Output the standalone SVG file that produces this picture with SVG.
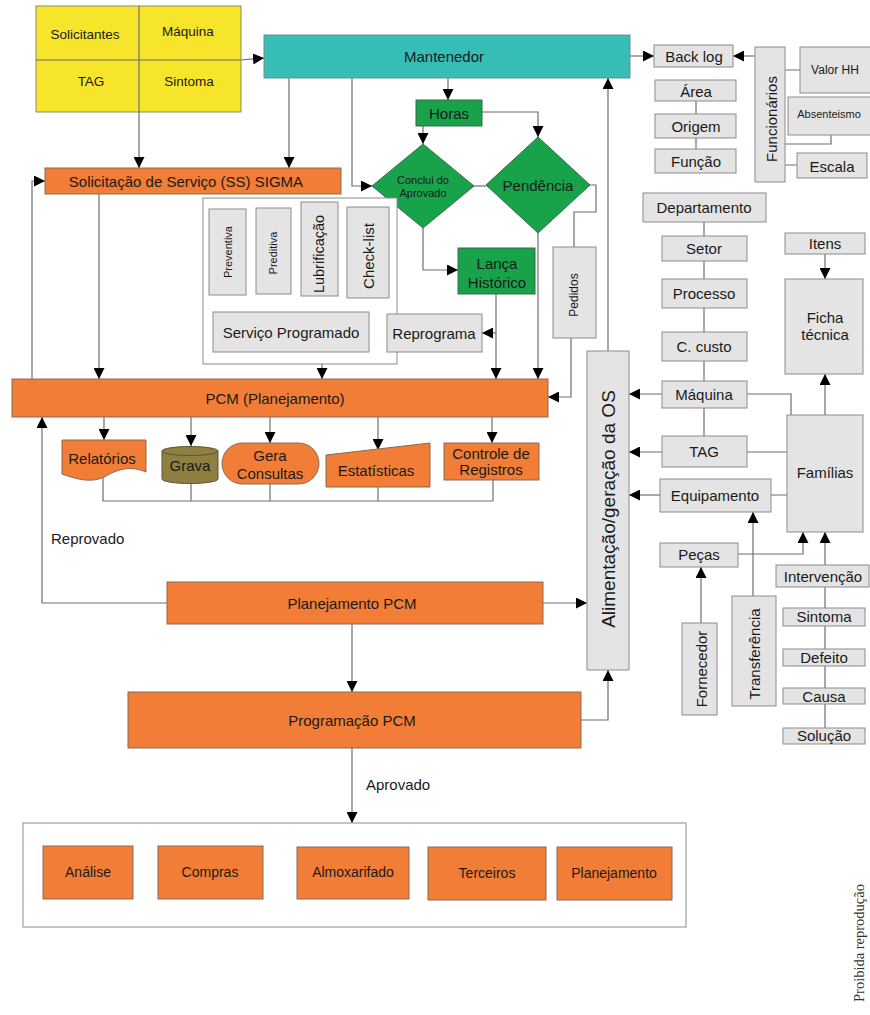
<svg xmlns="http://www.w3.org/2000/svg" width="870" height="1015" viewBox="0 0 870 1015">
  <style>
    text { font-family: "Liberation Sans", Arial, sans-serif; fill: #1a1a1a; text-anchor: middle; dominant-baseline: central; }
    .f15 { font-size: 15px; }
    .f13 { font-size: 13.5px; }
    .f12 { font-size: 12px; }
    .f11 { font-size: 11px; }
    .yel { fill: #F6E52A; stroke: #8b8b70; stroke-width: 1; }
    .teal { fill: #36BDB6; stroke: #6d8f8d; stroke-width: 1; }
    .org { fill: #F27D36; stroke: #8a6a55; stroke-width: 1; }
    .grn { fill: #18A24A; stroke: #3b6b4a; stroke-width: 1; }
    .gry { fill: #E4E4E4; stroke: #8c8c8c; stroke-width: 1; }
    .oli { fill: #8E8040; stroke: #5c5430; stroke-width: 1; }
    .frame { fill: #ffffff; stroke: #8c8c8c; stroke-width: 1; }
    .ln { fill: none; stroke: #6f6f6f; stroke-width: 1.2; }
    .arr { fill: none; stroke: #6f6f6f; stroke-width: 1.2; marker-end: url(#head); }
    .lbl { text-anchor: start; font-size: 15px; }
    .mark { font-family: "Liberation Serif", "Times New Roman", serif; font-size: 14.5px; fill: #333; }
  </style>
  <defs>
    <marker id="head" viewBox="0 0 10 10" refX="10" refY="5" markerWidth="11" markerHeight="11" markerUnits="userSpaceOnUse" orient="auto">
      <path d="M0,0 L10,5 L0,10 z" fill="#000"/>
    </marker>
  </defs>

  <!-- connectors -->
  <g id="connectors">
    <!-- top area -->
    <path class="arr" d="M241,60 L264,58"/>
    <path class="arr" d="M139,112 V168"/>
    <path class="arr" d="M289,78 V168"/>
    <path class="arr" d="M352,78 V186 H372"/>
    <path class="arr" d="M448,78 V100"/>
    <path class="arr" d="M423,126 V144"/>
    <path class="arr" d="M482,112 H538 V137"/>
    <path class="ln" d="M474,186 H486"/>
    <path class="arr" d="M630,56 H654"/>
    <path class="arr" d="M755,56 H733"/>
    <path class="ln" d="M696,101 V114 M696,138 V149"/>
    <path class="ln" d="M785,70 H800 M831,135 V144 H785 M785,165 H797"/>
    <!-- SS and PCM -->
    <path class="arr" d="M32,379 V181 H45"/>
    <path class="arr" d="M99,194 V379"/>
    <!-- decisions -->
    <path class="arr" d="M423,228 V270 H458"/>
    <path class="arr" d="M496,294 V379"/>
    <path class="arr" d="M496,333 H482"/>
    <path class="arr" d="M538,233 V379"/>
    <path class="ln" d="M590,185 H596 V212 H574 V247"/>
    <path class="arr" d="M571,338 V397 H548"/>
    <!-- programmed service -->
    <path class="ln" d="M228,295 V312 M273,294 V312 M319,296 V312 M368,298 V312"/>
    <path class="arr" d="M387,333 H369"/>
    <path class="arr" d="M322,352 V379"/>
    <!-- PCM outputs -->
    <path class="arr" d="M104,417 V440"/>
    <path class="arr" d="M191,417 V446"/>
    <path class="arr" d="M270,417 V443"/>
    <path class="arr" d="M378,417 V450"/>
    <path class="arr" d="M492,417 V443"/>
    <path class="ln" d="M103,476 V501 H493 M191,483 V501 M270,484 V501 M378,487 V501 M493,480 V501"/>
    <!-- planning flow -->
    <path class="arr" d="M167,603 H42 V417"/>
    <path class="arr" d="M543,603 H587"/>
    <path class="arr" d="M352,624 V692"/>
    <path class="arr" d="M581,720 H608 V670"/>
    <path class="arr" d="M608,351 V78"/>
    <path class="arr" d="M352,748 V823"/>
    <!-- right hierarchy -->
    <path class="ln" d="M704,222 V236 M704,261 V279 M704,308 V332 M704,361 V381 M704,408 V436"/>
    <path class="arr" d="M662,394 H629"/>
    <path class="arr" d="M662,452 H629"/>
    <path class="arr" d="M660,495 H629"/>
    <path class="ln" d="M747,394 H791 V415 M747,452 H787 M771,495 H787"/>
    <path class="arr" d="M825,254 V279"/>
    <path class="arr" d="M825,415 V374"/>
    <path class="arr" d="M738,554 H803 V532"/>
    <path class="arr" d="M825,565 V532"/>
    <path class="arr" d="M701,623 V567"/>
    <path class="arr" d="M753,596 V512"/>
    <path class="ln" d="M825,587 V608 M825,626 V649 M825,666 V688 M825,704 V728"/>
  </g>

  <!-- request data grid -->
  <g id="request-grid">
    <rect class="yel" x="36" y="6" width="205" height="106"/>
    <path class="ln" d="M139,6 V112 M36,60 H241" stroke="#8b8b70"/>
    <text class="f13" x="85" y="34">Solicitantes</text>
    <text class="f13" x="188" y="31">Máquina</text>
    <text class="f13" x="91" y="81">TAG</text>
    <text class="f13" x="189" y="81">Sintoma</text>
  </g>

  <g id="mantenedor">
    <rect class="teal" x="264" y="35" width="366" height="43"/>
    <text class="f15" x="444" y="56">Mantenedor</text>
  </g>

  <g id="backlog">
    <rect class="gry" x="654" y="45" width="79" height="22"/>
    <text class="f15" x="694" y="56">Back log</text>
  </g>
  <g id="area">
    <rect class="gry" x="655" y="80" width="81" height="21"/>
    <text class="f15" x="696" y="91">Área</text>
  </g>
  <g id="origem">
    <rect class="gry" x="655" y="114" width="81" height="24"/>
    <text class="f15" x="696" y="126">Origem</text>
  </g>
  <g id="funcao">
    <rect class="gry" x="655" y="149" width="81" height="24"/>
    <text class="f15" x="696" y="161">Função</text>
  </g>
  <g id="funcionarios">
    <rect class="gry" x="755" y="47" width="30" height="135"/>
    <text class="f15" transform="rotate(-90 771 119)" x="771" y="119">Funcionários</text>
  </g>
  <g id="valor-hh">
    <rect class="gry" x="800" y="47" width="72" height="46"/>
    <text class="f12" x="835" y="70">Valor HH</text>
  </g>
  <g id="absenteismo">
    <rect class="gry" x="788" y="97" width="84" height="38"/>
    <text class="f11" x="829" y="114">Absenteismo</text>
  </g>
  <g id="escala">
    <rect class="gry" x="797" y="153" width="70" height="25"/>
    <text class="f15" x="832" y="166">Escala</text>
  </g>

  <g id="horas">
    <rect class="grn" x="416" y="100" width="66" height="26"/>
    <text class="f15" x="449" y="113">Horas</text>
  </g>
  <g id="conclui">
    <polygon class="grn" points="423,144 474,186 423,228 372,186"/>
    <text class="f11" x="423" y="180">Conclui do</text>
    <text class="f11" x="423" y="193">Aprovado</text>
  </g>
  <g id="pendencia">
    <polygon class="grn" points="538,137 590,185 538,233 486,185"/>
    <text class="f15" x="538" y="185">Pendência</text>
  </g>
  <g id="lanca-historico">
    <rect class="grn" x="458" y="248" width="77" height="46"/>
    <text class="f15" x="497" y="263">Lança</text>
    <text class="f15" x="497" y="282">Histórico</text>
  </g>
  <g id="pedidos">
    <rect class="gry" x="553" y="247" width="43" height="91"/>
    <text class="f12" transform="rotate(-90 574 295)" x="574" y="295">Pedidos</text>
  </g>

  <g id="solicitacao">
    <rect class="org" x="45" y="168" width="296" height="26"/>
    <text class="f15" x="186" y="181">Solicitação de Serviço (SS) SIGMA</text>
  </g>

  <g id="servico-programado-grupo">
    <rect class="frame" x="203" y="198" width="194" height="166"/>
    <rect class="gry" x="209" y="209" width="37" height="86"/>
    <text class="f11" transform="rotate(-90 228 252)" x="228" y="252">Preventiva</text>
    <rect class="gry" x="256" y="208" width="35" height="86"/>
    <text class="f11" transform="rotate(-90 273 253)" x="273" y="253">Preditiva</text>
    <rect class="gry" x="301" y="202" width="37" height="94"/>
    <text class="f15" style="font-size:14.5px" transform="rotate(-90 319 254)" x="319" y="254">Lubrificação</text>
    <rect class="gry" x="347" y="207" width="42" height="91"/>
    <text class="f15" transform="rotate(-90 368 256)" x="368" y="256">Check-list</text>
    <rect class="gry" x="213" y="312" width="156" height="40"/>
    <text class="f15" x="291" y="332">Serviço Programado</text>
  </g>
  <g id="reprograma">
    <rect class="gry" x="387" y="314" width="95" height="38"/>
    <text class="f15" x="434" y="333">Reprograma</text>
  </g>

  <g id="pcm">
    <rect class="org" x="12" y="379" width="536" height="38"/>
    <text class="f15" x="275" y="398">PCM (Planejamento)</text>
  </g>
  <g id="relatorios">
    <path class="org" d="M62,440 H146 V472 C132,466 120,468 106,476 C92,484 76,479 62,474 Z"/>
    <text class="f15" x="102" y="458">Relatórios</text>
  </g>
  <g id="grava">
    <path class="oli" d="M162,451 A28,4.5 0 0 1 218,451 V479 A28,4.5 0 0 1 162,479 Z"/>
    <path class="oli" d="M162,451 A28,4.5 0 0 0 218,451" fill="none"/>
    <text class="f15" x="190" y="465">Grava</text>
  </g>
  <g id="gera-consultas">
    <rect class="org" x="222" y="443" width="97" height="41" rx="20.5"/>
    <text class="f15" x="270" y="455">Gera</text>
    <text class="f15" x="270" y="473">Consultas</text>
  </g>
  <g id="estatisticas">
    <polygon class="org" points="326,455 430,443 430,487 326,487"/>
    <text class="f15" x="376" y="470">Estatísticas</text>
  </g>
  <g id="controle-registros">
    <rect class="org" x="444" y="443" width="95" height="37"/>
    <text class="f15" x="491" y="453">Controle de</text>
    <text class="f15" x="491" y="469">Registros</text>
  </g>

  <text class="lbl" x="51" y="538">Reprovado</text>

  <g id="planejamento-pcm">
    <rect class="org" x="167" y="582" width="376" height="42"/>
    <text class="f15" x="352" y="603">Planejamento PCM</text>
  </g>
  <g id="programacao-pcm">
    <rect class="org" x="128" y="692" width="453" height="56"/>
    <text class="f15" x="352" y="720">Programação PCM</text>
  </g>
  <text class="lbl" x="366" y="784">Aprovado</text>

  <g id="alimentacao">
    <rect class="gry" x="587" y="351" width="42" height="319"/>
    <text class="f15" style="font-size:19px" transform="rotate(-90 608 509)" x="608" y="509">Alimentação/geração da OS</text>
  </g>

  <g id="departamento">
    <rect class="gry" x="643" y="193" width="123" height="29"/>
    <text class="f15" x="704" y="207">Departamento</text>
  </g>
  <g id="setor">
    <rect class="gry" x="662" y="236" width="85" height="25"/>
    <text class="f15" x="704" y="248">Setor</text>
  </g>
  <g id="processo">
    <rect class="gry" x="662" y="279" width="85" height="29"/>
    <text class="f15" x="704" y="293">Processo</text>
  </g>
  <g id="c-custo">
    <rect class="gry" x="662" y="332" width="85" height="29"/>
    <text class="f15" x="704" y="346">C. custo</text>
  </g>
  <g id="maquina">
    <rect class="gry" x="662" y="381" width="85" height="27"/>
    <text class="f15" x="704" y="394">Máquina</text>
  </g>
  <g id="tag">
    <rect class="gry" x="662" y="436" width="85" height="31"/>
    <text class="f15" x="704" y="451">TAG</text>
  </g>
  <g id="equipamento">
    <rect class="gry" x="660" y="479" width="111" height="33"/>
    <text class="f15" x="715" y="495">Equipamento</text>
  </g>
  <g id="pecas">
    <rect class="gry" x="660" y="543" width="78" height="24"/>
    <text class="f15" x="699" y="554">Peças</text>
  </g>
  <g id="fornecedor">
    <rect class="gry" x="682" y="623" width="35" height="92"/>
    <text class="f15" transform="rotate(-90 701 669)" x="701" y="669">Fornecedor</text>
  </g>
  <g id="transferencia">
    <rect class="gry" x="732" y="596" width="44" height="110"/>
    <text class="f15" transform="rotate(-90 754 654)" x="754" y="654">Transferência</text>
  </g>
  <g id="itens">
    <rect class="gry" x="785" y="233" width="80" height="21"/>
    <text class="f15" x="825" y="243">Itens</text>
  </g>
  <g id="ficha-tecnica">
    <rect class="gry" x="785" y="279" width="78" height="95"/>
    <text class="f15" x="825" y="317">Ficha</text>
    <text class="f15" x="825" y="334">técnica</text>
  </g>
  <g id="familias">
    <rect class="gry" x="787" y="415" width="76" height="117"/>
    <text class="f15" x="825" y="472">Famílias</text>
  </g>
  <g id="intervencao">
    <rect class="gry" x="776" y="565" width="93" height="22"/>
    <text class="f15" x="823" y="576">Intervenção</text>
  </g>
  <g id="sintoma">
    <rect class="gry" x="783" y="608" width="82" height="18"/>
    <text class="f15" x="824" y="616">Sintoma</text>
  </g>
  <g id="defeito">
    <rect class="gry" x="783" y="649" width="82" height="17"/>
    <text class="f15" x="824" y="657">Defeito</text>
  </g>
  <g id="causa">
    <rect class="gry" x="783" y="688" width="82" height="16"/>
    <text class="f15" x="824" y="696">Causa</text>
  </g>
  <g id="solucao">
    <rect class="gry" x="783" y="728" width="82" height="16"/>
    <text class="f15" x="824" y="735">Solução</text>
  </g>

  <g id="areas-envolvidas">
    <rect class="frame" x="23" y="823" width="663" height="104"/>
    <rect class="org" x="43" y="846" width="90" height="53"/>
    <text class="f15" style="font-size:14px" x="88" y="872">Análise</text>
    <rect class="org" x="158" y="846" width="105" height="53"/>
    <text class="f15" style="font-size:14px" x="210" y="872">Compras</text>
    <rect class="org" x="297" y="847" width="112" height="52"/>
    <text class="f15" style="font-size:14px" x="353" y="872">Almoxarifado</text>
    <rect class="org" x="428" y="847" width="118" height="53"/>
    <text class="f15" style="font-size:14px" x="487" y="873">Terceiros</text>
    <rect class="org" x="557" y="847" width="115" height="53"/>
    <text class="f15" style="font-size:14px" x="614" y="873">Planejamento</text>
  </g>

  <text class="mark" transform="rotate(-90 859 943)" x="859" y="943">Proibida reprodução</text>
</svg>
